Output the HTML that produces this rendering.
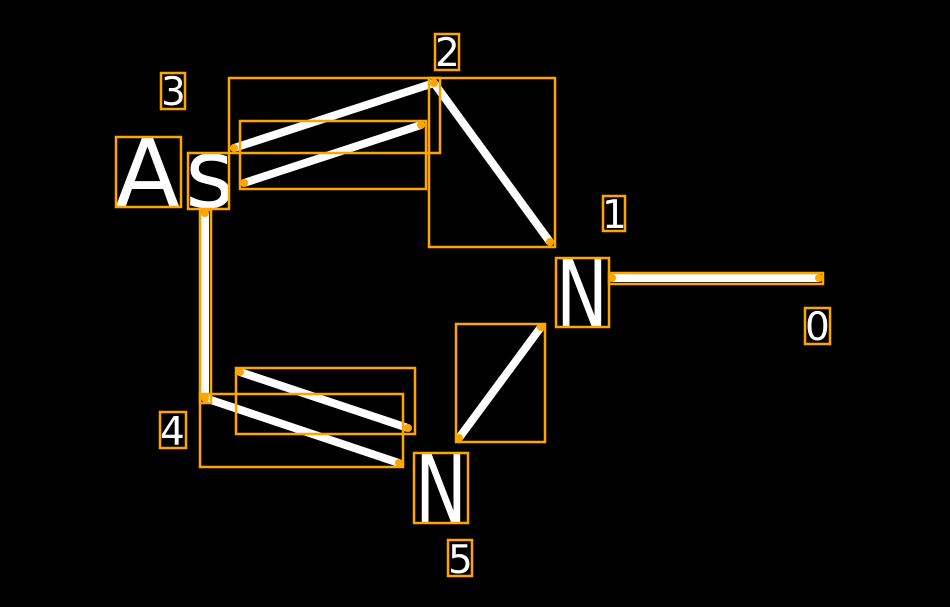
<!DOCTYPE html>
<html><head><style>html,body{margin:0;padding:0;background:#000;}svg{display:block}</style></head>
<body>
<svg width="950" height="607" viewBox="0 0 950 607" xmlns="http://www.w3.org/2000/svg">
<rect width="950" height="607" fill="#000"/>
<g stroke="#fff" stroke-width="8" stroke-linecap="butt">
<line x1="234" y1="148" x2="434" y2="83"/>
<line x1="244" y1="183" x2="421" y2="125"/>
<line x1="434" y1="83" x2="550" y2="242"/>
<line x1="612" y1="278" x2="819" y2="278"/>
<line x1="205" y1="213" x2="205" y2="398"/>
<line x1="240" y1="372" x2="408" y2="428"/>
<line x1="205" y1="398" x2="399" y2="463"/>
<line x1="541" y1="327" x2="459" y2="438"/>
</g>
<g fill="#fff" font-family="DejaVu Sans, sans-serif">
<text x="115" y="207" font-size="95">A</text>
<text x="185" y="207" font-size="95">s</text>
<text x="556" y="327" font-size="95" textLength="52" lengthAdjust="spacingAndGlyphs">N</text>
<text x="415" y="522" font-size="95" textLength="52" lengthAdjust="spacingAndGlyphs">N</text>
<g font-size="39">
<text x="435" y="66">2</text>
<text x="161" y="105">3</text>
<text x="602" y="228">1</text>
<text x="805" y="340">0</text>
<text x="160" y="445">4</text>
<text x="448" y="573">5</text>
</g>
</g>
<g fill="none" stroke="#ffa500" stroke-width="2.5">
<rect x="435" y="34" width="24" height="36"/>
<rect x="161" y="73" width="24" height="36"/>
<rect x="603" y="196" width="22" height="35"/>
<rect x="805" y="308" width="25" height="36"/>
<rect x="160" y="412" width="26" height="36"/>
<rect x="448" y="540" width="24" height="36"/>
<rect x="116" y="137" width="65" height="70"/>
<rect x="188" y="153" width="41" height="56"/>
<rect x="556" y="258" width="53" height="69"/>
<rect x="414" y="453" width="54" height="70"/>
<rect x="229" y="78" width="211" height="75"/>
<rect x="240" y="121" width="186" height="68"/>
<rect x="429" y="78" width="126" height="169"/>
<rect x="609" y="273" width="214" height="11"/>
<rect x="200" y="210" width="11" height="193"/>
<rect x="236" y="368" width="179" height="66"/>
<rect x="200" y="394" width="203" height="73"/>
<rect x="456" y="324" width="89" height="118"/>
</g>
<g fill="#ffa500">
<circle cx="234" cy="148" r="4"/><circle cx="434" cy="83" r="4"/>
<circle cx="244" cy="183" r="4"/><circle cx="421" cy="125" r="4"/>
<circle cx="550" cy="242" r="4"/><circle cx="612" cy="278" r="4"/>
<circle cx="819" cy="278" r="4"/><circle cx="205" cy="213" r="4"/>
<circle cx="205" cy="398" r="4"/><circle cx="240" cy="372" r="4"/>
<circle cx="408" cy="428" r="4"/><circle cx="399" cy="463" r="4"/>
<circle cx="541" cy="327" r="4"/><circle cx="459" cy="438" r="4"/>
</g>
</svg>
</body></html>
